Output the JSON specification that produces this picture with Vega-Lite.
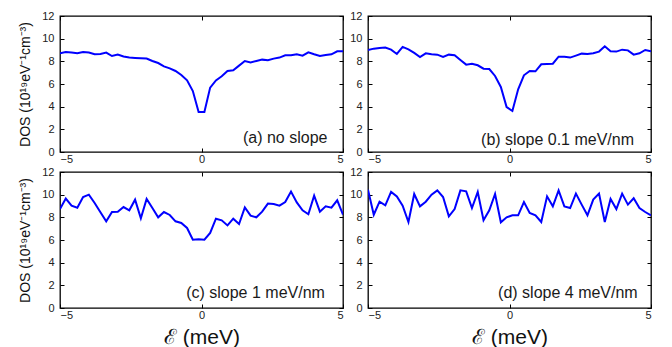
{
  "$schema": "https://vega.github.io/schema/vega-lite/v6.json",
  "padding": {"left": 18, "top": 9, "right": 5, "bottom": 5},
  "background": "white",
  "data": {"values": [
    {"E": -5, "a": 8.71, "b": 9.0, "c": 8.74, "d": 10.44},
    {"E": -4.796, "a": 8.83, "b": 9.12, "c": 9.65, "d": 8.23},
    {"E": -4.592, "a": 8.77, "b": 9.18, "c": 9.03, "d": 9.38},
    {"E": -4.388, "a": 8.71, "b": 9.21, "c": 8.85, "d": 9.06},
    {"E": -4.184, "a": 8.83, "b": 9.03, "c": 9.79, "d": 10.24},
    {"E": -3.98, "a": 8.77, "b": 8.65, "c": 10.0, "d": 9.85},
    {"E": -3.776, "a": 8.62, "b": 9.27, "c": 9.27, "d": 9.03},
    {"E": -3.571, "a": 8.65, "b": 9.06, "c": 8.44, "d": 7.59},
    {"E": -3.367, "a": 8.77, "b": 8.74, "c": 7.65, "d": 10.06},
    {"E": -3.163, "a": 8.47, "b": 8.38, "c": 8.47, "d": 8.97},
    {"E": -2.959, "a": 8.59, "b": 8.71, "c": 8.5, "d": 9.38},
    {"E": -2.755, "a": 8.42, "b": 8.62, "c": 8.91, "d": 10.0},
    {"E": -2.551, "a": 8.33, "b": 8.59, "c": 8.62, "d": 10.38},
    {"E": -2.347, "a": 8.3, "b": 8.38, "c": 9.56, "d": 9.79},
    {"E": -2.143, "a": 8.27, "b": 8.59, "c": 7.91, "d": 8.09},
    {"E": -1.939, "a": 8.24, "b": 8.53, "c": 9.62, "d": 8.73},
    {"E": -1.735, "a": 8.03, "b": 8.12, "c": 8.82, "d": 10.38},
    {"E": -1.531, "a": 7.85, "b": 7.71, "c": 8.0, "d": 10.29},
    {"E": -1.327, "a": 7.56, "b": 7.79, "c": 8.47, "d": 8.82},
    {"E": -1.122, "a": 7.38, "b": 7.65, "c": 8.21, "d": 10.24},
    {"E": -0.918, "a": 7.15, "b": 7.35, "c": 7.65, "d": 7.74},
    {"E": -0.714, "a": 6.79, "b": 7.32, "c": 7.5, "d": 8.62},
    {"E": -0.51, "a": 6.32, "b": 6.71, "c": 7.06, "d": 10.06},
    {"E": -0.306, "a": 5.38, "b": 5.74, "c": 6.03, "d": 7.56},
    {"E": -0.102, "a": 3.53, "b": 3.97, "c": 6.06, "d": 8.0},
    {"E": 0.102, "a": 3.53, "b": 3.62, "c": 6.03, "d": 8.18},
    {"E": 0.306, "a": 5.68, "b": 5.53, "c": 6.62, "d": 8.18},
    {"E": 0.51, "a": 6.32, "b": 6.77, "c": 7.88, "d": 9.35},
    {"E": 0.714, "a": 6.68, "b": 7.15, "c": 7.74, "d": 8.38},
    {"E": 0.918, "a": 7.15, "b": 7.12, "c": 7.29, "d": 8.18},
    {"E": 1.122, "a": 7.21, "b": 7.74, "c": 7.88, "d": 7.59},
    {"E": 1.327, "a": 7.62, "b": 7.77, "c": 7.41, "d": 9.85},
    {"E": 1.531, "a": 8.03, "b": 7.79, "c": 8.88, "d": 8.97},
    {"E": 1.735, "a": 7.91, "b": 8.41, "c": 8.15, "d": 10.38},
    {"E": 1.939, "a": 8.03, "b": 8.41, "c": 8.0, "d": 8.97},
    {"E": 2.143, "a": 8.15, "b": 8.33, "c": 8.5, "d": 8.82},
    {"E": 2.347, "a": 8.09, "b": 8.5, "c": 9.21, "d": 10.09},
    {"E": 2.551, "a": 8.24, "b": 8.68, "c": 9.18, "d": 9.12},
    {"E": 2.755, "a": 8.33, "b": 8.65, "c": 9.03, "d": 8.18},
    {"E": 2.959, "a": 8.53, "b": 8.71, "c": 9.35, "d": 9.56},
    {"E": 3.163, "a": 8.53, "b": 8.86, "c": 10.27, "d": 10.09},
    {"E": 3.367, "a": 8.62, "b": 9.33, "c": 9.32, "d": 7.59},
    {"E": 3.571, "a": 8.5, "b": 8.89, "c": 8.62, "d": 9.62},
    {"E": 3.776, "a": 8.8, "b": 8.86, "c": 8.27, "d": 8.73},
    {"E": 3.98, "a": 8.62, "b": 9.03, "c": 9.91, "d": 10.09},
    {"E": 4.184, "a": 8.47, "b": 8.97, "c": 8.5, "d": 9.12},
    {"E": 4.388, "a": 8.56, "b": 8.59, "c": 8.97, "d": 9.68},
    {"E": 4.592, "a": 8.62, "b": 8.71, "c": 8.85, "d": 8.82},
    {"E": 4.796, "a": 8.89, "b": 9.0, "c": 9.5, "d": 8.47},
    {"E": 5, "a": 8.89, "b": 8.89, "c": 8.24, "d": 8.18}
  ]},
  "vconcat": [
    {"spacing": 4, "hconcat": [
      {"width": 283, "height": 136,
       "layer": [
        {"mark": {"type": "line", "color": "#0000ff", "strokeWidth": 2, "clip": true},
         "encoding": {
          "x": {"field": "E", "type": "quantitative", "scale": {"domain": [-5, 5], "nice": false}, "axis": {"orient": "bottom", "values": [-5, 0, 5], "title": null}},
          "y": {"field": "a", "type": "quantitative", "scale": {"domain": [0, 12], "nice": false}, "axis": {"orient": "left", "values": [0, 2, 4, 6, 8, 10, 12], "title": "DOS (10¹⁹eV⁻¹cm⁻³)"}}}},
        {"data": {"values": [{"label": "(a) no slope"}]},
         "mark": {"type": "text", "align": "right", "baseline": "middle", "fontSize": 16, "font": "Liberation Sans", "color": "#1a1a1a"},
         "encoding": {
          "x": {"datum": 4.45, "type": "quantitative", "axis": {"orient": "top", "values": [-5, 0, 5], "labels": false, "title": null}},
          "y": {"datum": 1.25, "type": "quantitative", "axis": {"orient": "right", "values": [0, 2, 4, 6, 8, 10, 12], "labels": false, "title": null}},
          "text": {"field": "label"}}}
       ],
       "resolve": {"axis": {"x": "independent", "y": "independent"}}},
      {"width": 283, "height": 136,
       "layer": [
        {"mark": {"type": "line", "color": "#0000ff", "strokeWidth": 2, "clip": true},
         "encoding": {
          "x": {"field": "E", "type": "quantitative", "scale": {"domain": [-5, 5], "nice": false}, "axis": {"orient": "bottom", "values": [-5, 0, 5], "title": null}},
          "y": {"field": "b", "type": "quantitative", "scale": {"domain": [0, 12], "nice": false}, "axis": {"orient": "left", "values": [0, 2, 4, 6, 8, 10, 12], "title": null}}}},
        {"data": {"values": [{"label": "(b) slope 0.1 meV/nm"}]},
         "mark": {"type": "text", "align": "right", "baseline": "middle", "fontSize": 16, "font": "Liberation Sans", "color": "#1a1a1a"},
         "encoding": {
          "x": {"datum": 4.4, "type": "quantitative", "axis": {"orient": "top", "values": [-5, 0, 5], "labels": false, "title": null}},
          "y": {"datum": 1.05, "type": "quantitative", "axis": {"orient": "right", "values": [0, 2, 4, 6, 8, 10, 12], "labels": false, "title": null}},
          "text": {"field": "label"}}}
       ],
       "resolve": {"axis": {"x": "independent", "y": "independent"}}}
    ]},
    {"spacing": 4, "hconcat": [
      {"width": 283, "height": 136,
       "layer": [
        {"mark": {"type": "line", "color": "#0000ff", "strokeWidth": 2, "clip": true},
         "encoding": {
          "x": {"field": "E", "type": "quantitative", "scale": {"domain": [-5, 5], "nice": false}, "axis": {"orient": "bottom", "values": [-5, 0, 5], "title": "ℰ  (meV)"}},
          "y": {"field": "c", "type": "quantitative", "scale": {"domain": [0, 12], "nice": false}, "axis": {"orient": "left", "values": [0, 2, 4, 6, 8, 10, 12], "title": "DOS (10¹⁹eV⁻¹cm⁻³)"}}}},
        {"data": {"values": [{"label": "(c) slope 1 meV/nm"}]},
         "mark": {"type": "text", "align": "right", "baseline": "middle", "fontSize": 16, "font": "Liberation Sans", "color": "#1a1a1a"},
         "encoding": {
          "x": {"datum": 4.36, "type": "quantitative", "axis": {"orient": "top", "values": [-5, 0, 5], "labels": false, "title": null}},
          "y": {"datum": 1.35, "type": "quantitative", "axis": {"orient": "right", "values": [0, 2, 4, 6, 8, 10, 12], "labels": false, "title": null}},
          "text": {"field": "label"}}}
       ],
       "resolve": {"axis": {"x": "independent", "y": "independent"}}},
      {"width": 283, "height": 136,
       "layer": [
        {"mark": {"type": "line", "color": "#0000ff", "strokeWidth": 2, "clip": true},
         "encoding": {
          "x": {"field": "E", "type": "quantitative", "scale": {"domain": [-5, 5], "nice": false}, "axis": {"orient": "bottom", "values": [-5, 0, 5], "title": "ℰ  (meV)"}},
          "y": {"field": "d", "type": "quantitative", "scale": {"domain": [0, 12], "nice": false}, "axis": {"orient": "left", "values": [0, 2, 4, 6, 8, 10, 12], "title": null}}}},
        {"data": {"values": [{"label": "(d) slope 4 meV/nm"}]},
         "mark": {"type": "text", "align": "right", "baseline": "middle", "fontSize": 16, "font": "Liberation Sans", "color": "#1a1a1a"},
         "encoding": {
          "x": {"datum": 4.53, "type": "quantitative", "axis": {"orient": "top", "values": [-5, 0, 5], "labels": false, "title": null}},
          "y": {"datum": 1.32, "type": "quantitative", "axis": {"orient": "right", "values": [0, 2, 4, 6, 8, 10, 12], "labels": false, "title": null}},
          "text": {"field": "label"}}}
       ],
       "resolve": {"axis": {"x": "independent", "y": "independent"}}}
    ]}
  ],
  "spacing": 0,
  "config": {
    "view": {"stroke": "black", "strokeWidth": 1.3},
    "axis": {
      "domain": false, "grid": false,
      "ticks": true, "tickSize": -4, "tickColor": "black", "tickWidth": 1,
      "labelFont": "Liberation Sans", "labelFontSize": 11, "labelColor": "#222222", "labelPadding": 10,
      "titleFont": "Liberation Sans", "titleFontWeight": "normal", "titleColor": "#111111"
    },
    "axisLeft": {"titleFontSize": 14, "titlePadding": 9, "labelPadding": 10},
    "axisBottom": {"titleFontSize": 21, "titlePadding": 6, "labelPadding": 5}
  }
}
